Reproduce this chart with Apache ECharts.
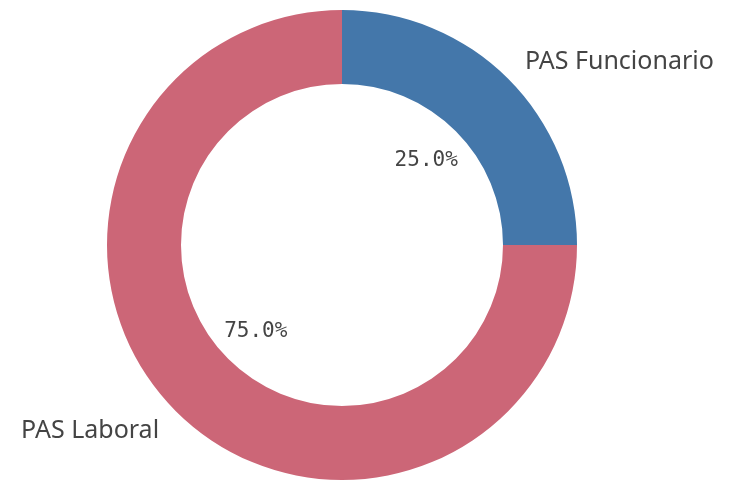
<!DOCTYPE html>
<html>
<head>
<meta charset="utf-8">
<script src="https://cdn.jsdelivr.net/npm/echarts@6/dist/echarts.min.js"></script>
<style>
    html, body { margin: 0; padding: 0; background: #fff; }
    #main { width: 730px; height: 484px; }
</style>
</head>
<body>
<div id="main"></div>
<script>
//数据
var categories = ["PAS Funcionario", "PAS Laboral"];
var values = [25, 75];
var colors = ["#4477AA", "#CC6677"];

var center = [342, 245];
var outerR = 235;
var innerR = 161;

function buildData(transparent) {
    var arr = [];
    for (var i = 0; i < categories.length; i++) {
        arr.push({
            name: categories[i],
            value: values[i],
            itemStyle: { color: transparent ? 'rgba(0,0,0,0)' : colors[i] }
        });
    }
    return arr;
}

var myChart = echarts.init(document.getElementById('main'), null, { renderer: 'canvas' });

var option = {
    animation: false,
    series: [
        {
            //圆环
            type: 'pie',
            center: center,
            radius: [innerR, outerR],
            startAngle: 90,
            clockwise: true,
            silent: true,
            label: { show: false },
            labelLine: { show: false },
            itemStyle: { borderWidth: 0 },
            data: buildData(false)
        },
        {
            //百分比 (半径的一半处)
            type: 'pie',
            center: center,
            radius: [0, outerR],
            startAngle: 90,
            silent: true,
            label: {
                show: true,
                position: 'inside',
                fontFamily: 'DejaVu Sans Mono',
                fontSize: 21,
                color: '#444',
                offset: [-1, 1],
                formatter: function (p) {
                    return p.percent.toFixed(1) + '%';
                }
            },
            labelLine: { show: false },
            data: buildData(true)
        },
        {
            //类别名称 (1.1倍半径处)
            type: 'pie',
            center: center,
            radius: [0, outerR * 2.2],
            startAngle: 90,
            silent: true,
            label: {
                show: true,
                position: 'inside',
                fontFamily: 'Noto Sans',
                fontSize: 25,
                color: '#444',
                formatter: '{b}'
            },
            labelLine: { show: false },
            labelLayout: function (params) {
                var r = params.labelRect;
                var cx = r.x + r.width / 2;
                if (cx > center[0]) {
                    return { dx: r.width / 2 - 2, dy: 2 };
                }
                return { dx: -r.width / 2 + 2, dy: 1 };
            },
            data: buildData(true)
        }
    ]
};

myChart.setOption(option);
</script>
</body>
</html>
